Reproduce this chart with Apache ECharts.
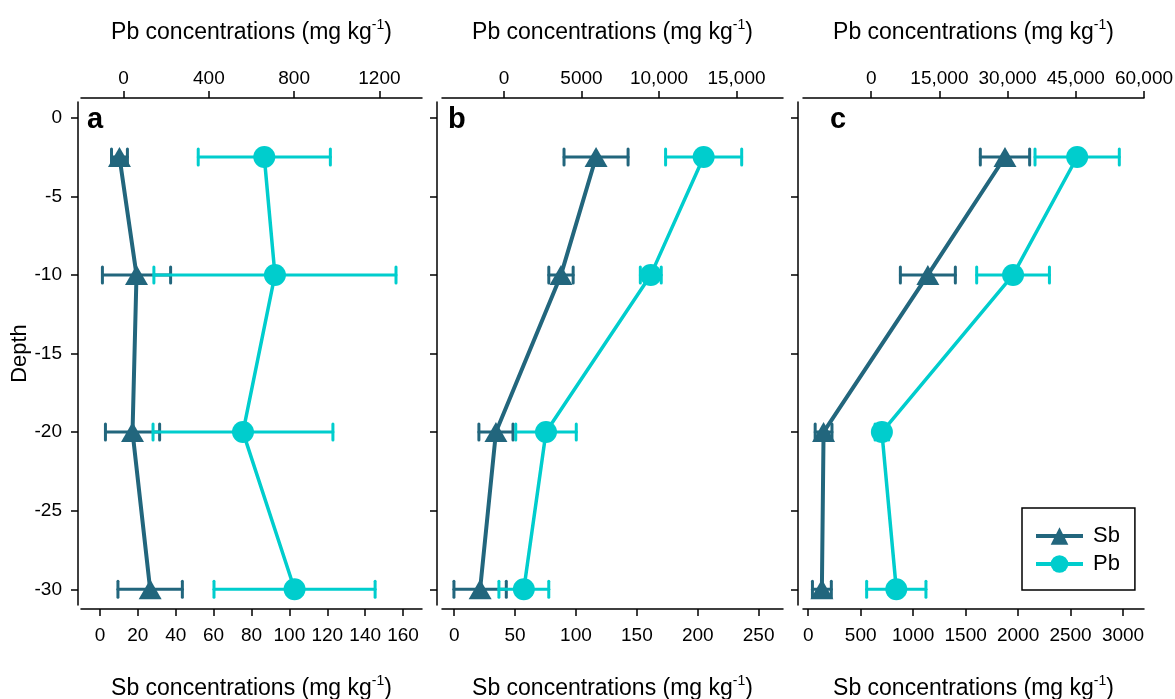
<!DOCTYPE html>
<html>
<head>
<meta charset="utf-8">
<script src="https://cdn.jsdelivr.net/npm/echarts@6/dist/echarts.min.js"></script>
<style>
  html, body { margin: 0; background: #fff; }
  #chart { width: 1175px; height: 699px; }
</style>
</head>
<body>
<div id="chart"></div>
<script>
// depths of the sampling layers
const depths = [-2.5, -10, -20, -30]
const depthTicks = [0, -5, -10, -15, -20, -25, -30]

// panel a
const sbA = [10.3, 19.3, 17.2, 26.5]
const sbErrA = [4.2, 18, 14.3, 17]
const pbA = [660, 710, 560, 802]
const pbErrA = [310, 568, 422, 378]
const sbTicksA = [0, 20, 40, 60, 80, 100, 120, 140, 160]
const pbTicksA = [0, 400, 800, 1200]

// panel b
const sbB = [116.5, 87.7, 34.3, 21.3]
const sbErrB = [26.3, 10, 14, 21.5]
const pbB = [12880, 9470, 2710, 1280]
const pbErrB = [2455, 675, 1953, 1608]
const sbTicksB = [0, 50, 100, 150, 200, 250]
const pbTicksB = [0, 5000, 10000, 15000]

// panel c
const sbC = [1875, 1140, 146, 130]
const sbErrC = [235, 262, 80, 90]
const pbC = [45300, 31200, 2350, 5520]
const pbErrC = [9270, 8000, 1500, 6520]
const sbTicksC = [0, 500, 1000, 1500, 2000, 2500, 3000]
const pbTicksC = [0, 15000, 30000, 45000, 60000]

const SB_COLOR = '#22667D'
const PB_COLOR = '#00CDCD'
const FONT = 'Liberation Sans, Arial, sans-serif'

const panels = [
  { label: 'a', sb: sbA, sbErr: sbErrA, pb: pbA, pbErr: pbErrA, sbTicks: sbTicksA, pbTicks: pbTicksA,
    sbMin: -10, sbMax: 170, pbMin: -200, pbMax: 1400, left: 81, yOffset: 3, showY: true },
  { label: 'b', sb: sbB, sbErr: sbErrB, pb: pbB, pbErr: pbErrB, sbTicks: sbTicksB, pbTicks: pbTicksB,
    sbMin: -10, sbMax: 270, pbMin: -4000, pbMax: 18000, left: 442, yOffset: 5, showY: false },
  { label: 'c', sb: sbC, sbErr: sbErrC, pb: pbC, pbErr: pbErrC, sbTicks: sbTicksC, pbTicks: pbTicksC,
    sbMin: -50, sbMax: 3200, pbMin: -15000, pbMax: 60000, left: 803, yOffset: 5, showY: false }
]

const fmt = v => Math.abs(v) >= 10000 ? String(v).replace(/\B(?=(\d{3})+(?!\d))/g, ',') : String(v)

const axisName = el => `{t|${el} concentrations (mg kg}{s|-1}{t|)}`
const nameStyle = {
  rich: {
    t: { fontSize: 23, color: '#000', fontFamily: FONT },
    s: { fontSize: 14, color: '#000', fontFamily: FONT, padding: [0, 0, 15, 0] }
  }
}

function errorBar(color) {
  return function (params, api) {
    const v = api.value(0), d = api.value(1), e = api.value(2)
    const lo = api.coord([v - e, d])
    const hi = api.coord([v + e, d])
    const h = 8
    const style = { stroke: color, lineWidth: 3, lineCap: 'round' }
    return {
      type: 'group',
      children: [
        { type: 'line', shape: { x1: lo[0], y1: lo[1], x2: hi[0], y2: hi[1] }, style },
        { type: 'line', shape: { x1: lo[0], y1: lo[1] - h, x2: lo[0], y2: lo[1] + h }, style },
        { type: 'line', shape: { x1: hi[0], y1: hi[1] - h, x2: hi[0], y2: hi[1] + h }, style }
      ]
    }
  }
}

const grid = [], xAxis = [], yAxis = [], series = [], graphic = []

panels.forEach((p, i) => {
  grid.push({ left: p.left, top: 102, width: 341, height: 503, containLabel: false, outerBoundsMode: 'none' })

  const axisLine = { show: true, onZero: false, lineStyle: { color: '#000', width: 1.5 } }
  const tickLine = { color: '#000', width: 1.5 }

  // bottom: Sb
  xAxis.push({
    type: 'value', gridIndex: i, position: 'bottom', offset: 4,
    min: p.sbMin, max: p.sbMax,
    splitLine: { show: false }, axisLine,
    axisTick: { show: true, length: 7, customValues: p.sbTicks, lineStyle: tickLine },
    axisLabel: { customValues: p.sbTicks, fontSize: 19, color: '#000', fontFamily: FONT, margin: 17, formatter: fmt },
    name: axisName('Sb'), nameLocation: 'middle', nameGap: 65, nameTextStyle: nameStyle
  })
  // top: Pb
  xAxis.push({
    type: 'value', gridIndex: i, position: 'top', offset: 4,
    min: p.pbMin, max: p.pbMax,
    splitLine: { show: false }, axisLine,
    axisTick: { show: true, length: 7, customValues: p.pbTicks, lineStyle: tickLine },
    axisLabel: { customValues: p.pbTicks, fontSize: 19, color: '#000', fontFamily: FONT, margin: 10, formatter: fmt },
    name: axisName('Pb'), nameLocation: 'middle', nameGap: 51, nameTextStyle: nameStyle
  })
  yAxis.push({
    type: 'value', gridIndex: i, position: 'left', offset: p.yOffset,
    min: -31, max: 1,
    splitLine: { show: false }, axisLine,
    axisTick: { show: true, length: 7, customValues: depthTicks, lineStyle: tickLine },
    axisLabel: { show: p.showY, customValues: depthTicks, fontSize: 19, color: '#000', fontFamily: FONT, margin: 16 },
    name: p.showY ? 'Depth' : '', nameLocation: 'middle', nameGap: 41,
    nameTextStyle: { fontSize: 22, color: '#000', fontFamily: FONT }
  })

  series.push({
    type: 'custom', name: 'SbErr', xAxisIndex: 2 * i, yAxisIndex: i, z: 2,
    renderItem: errorBar(SB_COLOR), encode: { x: 0, y: 1 },
    data: depths.map((d, k) => [p.sb[k], d, p.sbErr[k]])
  })
  series.push({
    type: 'custom', name: 'PbErr', xAxisIndex: 2 * i + 1, yAxisIndex: i, z: 2,
    renderItem: errorBar(PB_COLOR), encode: { x: 0, y: 1 },
    data: depths.map((d, k) => [p.pb[k], d, p.pbErr[k]])
  })
  series.push({
    type: 'line', name: 'Sb', xAxisIndex: 2 * i, yAxisIndex: i, z: 3,
    symbol: 'triangle', symbolSize: [23, 20],
    lineStyle: { color: SB_COLOR, width: 4 }, itemStyle: { color: SB_COLOR },
    data: depths.map((d, k) => [p.sb[k], d])
  })
  series.push({
    type: 'line', name: 'Pb', xAxisIndex: 2 * i + 1, yAxisIndex: i, z: 3,
    symbol: 'circle', symbolSize: 22,
    lineStyle: { color: PB_COLOR, width: 3.5 }, itemStyle: { color: PB_COLOR },
    data: depths.map((d, k) => [p.pb[k], d])
  })

  graphic.push({
    type: 'text', left: p.left + (i === 2 ? 27 : 6), top: 105,
    style: { text: p.label, fontSize: 29, fontWeight: 'bold', fill: '#000', fontFamily: FONT }
  })
})

const chart = echarts.init(document.getElementById('chart'))
chart.setOption({
  animation: false,
  textStyle: { fontFamily: FONT },
  grid, xAxis, yAxis, series, graphic,
  legend: {
    data: ['Sb', 'Pb'], orient: 'vertical', left: 1022, top: 508,
    borderColor: '#000', borderWidth: 1.5, borderRadius: 0,
    padding: [17, 15, 15, 12], itemWidth: 47, itemHeight: 22, itemGap: 6,
    lineStyle: { width: 4 },
    textStyle: { fontSize: 22, color: '#000', fontFamily: FONT, padding: [0, 0, 0, 5] }
  }
})
</script>
</body>
</html>
